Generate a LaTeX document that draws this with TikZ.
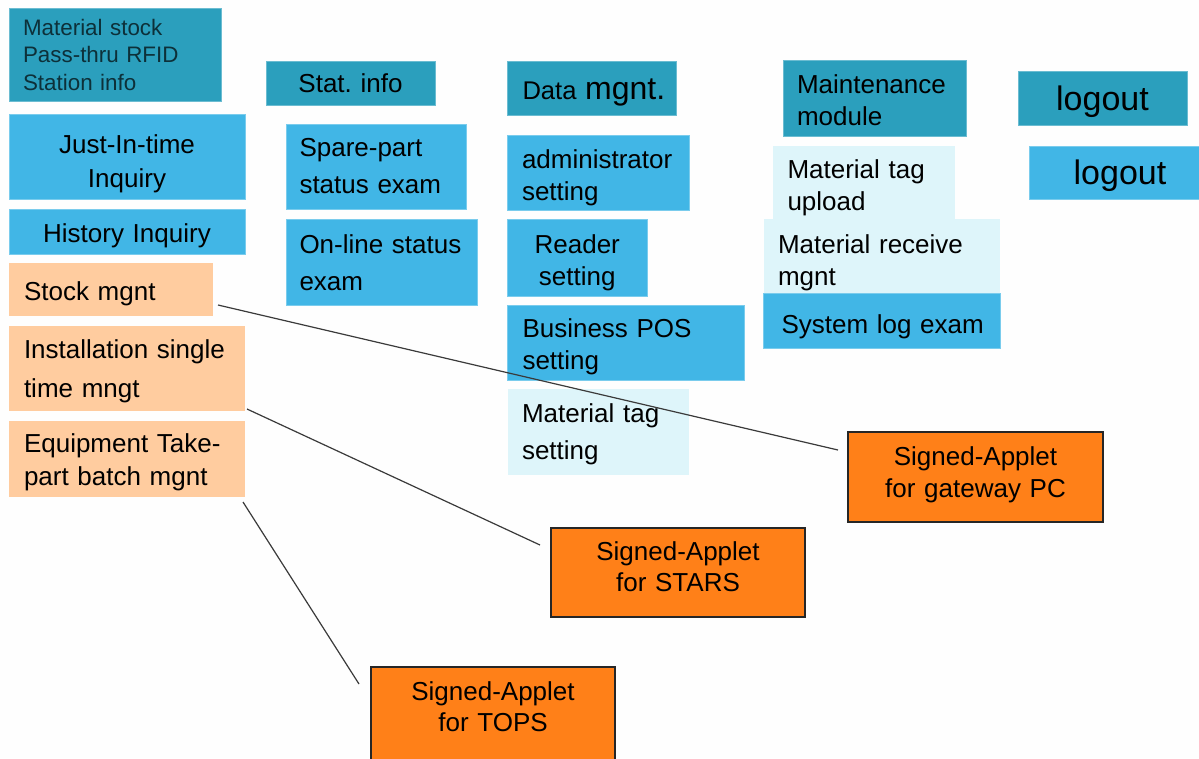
\documentclass[tikz,border=0pt]{standalone}
\usepackage{fontspec}
\setmainfont{Liberation Sans}
\definecolor{tealc}{HTML}{2B9FBD}
\definecolor{bluec}{HTML}{41B6E6}
\definecolor{peachc}{HTML}{FFCC9F}
\definecolor{palec}{HTML}{DEF5FA}
\definecolor{orangec}{HTML}{FF8018}
\definecolor{linkc}{HTML}{3A3A3A}
\newcommand\pxfont[2]{\pgfmathsetlengthmacro\pxa{#1*0.75pt}\pgfmathsetlengthmacro\pxb{#2*0.75pt}\fontsize{\pxa}{\pxb}\selectfont\frenchspacing}
% text moved down (\dnpx, at the start of a text) or up (\uppx, at its end), in pixels
\newlength\bxd
\newcommand\dnpx[1]{\setlength\bxd{\dimexpr .73em+#1pt*3/2\relax}\rule{0pt}{\bxd}}
\newcommand\uppx[1]{\setlength\bxd{\dimexpr .21em+#1pt*3/2\relax}\rule[-\bxd]{0pt}{\bxd}}
\tikzset{
  ft/.style n args={2}{font=\pxfont{#1}{#2}},
  tealbox/.style={fill=tealc,draw=tealc!70!white,line width=.5pt},
  bluebox/.style={fill=bluec,draw=bluec!70!white,line width=.5pt},
  peachbox/.style={fill=peachc},
  palebox/.style={fill=palec},
  orangebox/.style={fill=orangec,draw=black!85,line width=.8pt},
  link/.style={draw=linkc,line width=.9pt},
}
\newlength\bxw
\newlength\bxh
\newlength\bxt
\newcommand\bx[8][]{%
  \pgfmathsetlength\bxw{(#5-#3)*0.75pt}%
  \pgfmathsetlength\bxh{(#6-#4)*0.75pt}%
  \pgfmathsetlength\bxt{(#5-#3-2*#7)*0.75pt}%
  \node[inner sep=0pt,outer sep=0pt,anchor=center,minimum width=\bxw,minimum height=\bxh,
        text width=\bxt,align=left,#1] (#2) at ({(#3+#5)/2},{(#4+#6)/2}) {#8};%
}
\begin{document}
\begin{tikzpicture}[x=.75pt,y=-.75pt]
\useasboundingbox (0,0) rectangle (1199,758);
\fill[white!99.5!black] (0,0) rectangle (1199,758);
% column 1
\bx[tealbox,ft={22.4}{27.5},text=black!70!tealc]{stockinfo}{9}{8}{221}{101}{14}{Material stock\\Pass-thru RFID\\Station info}
\bx[bluebox,ft={26}{34},align=center]{jit}{9}{114}{245}{199}{10}{\dnpx{7}Just-In-time\\Inquiry}
\bx[bluebox,ft={26}{30},align=center]{hist}{9}{209}{245}{254}{10}{\dnpx{4}History Inquiry}
\bx[peachbox,ft={26}{30}]{stock}{9}{263}{213}{316}{15}{\dnpx{4}Stock mgnt}
\bx[peachbox,ft={26}{39}]{install}{9}{326}{245}{411}{15}{\dnpx{3}Installation single\\time mngt}
\bx[peachbox,ft={26}{33}]{equip}{9}{421}{245}{497}{15}{\dnpx{3}Equipment Take-\\part batch mgnt}
% column 2
\bx[tealbox,ft={26}{30},align=center]{stat}{266}{61}{435}{105}{5}{Stat. info}
\bx[bluebox,ft={26}{37}]{spare}{286}{124}{466}{209}{13.5}{Spare-part\\status exam}
\bx[bluebox,ft={26}{37}]{online}{286}{219}{477}{305}{13.5}{\dnpx{1}On-line status\\exam}
% column 3
\bx[tealbox,ft={25.6}{30}]{datam}{507.5}{61}{676.5}{115}{15}{\dnpx{5}\mbox{Data {\pxfont{32}{32}mgnt.}}}
\bx[bluebox,ft={26}{32}]{admin}{507.5}{135}{689}{210}{14.5}{\dnpx{5}administrator\\setting}
\bx[bluebox,ft={26}{32},align=center]{reader}{507.5}{219}{647}{296}{5}{\dnpx{5}Reader\\setting}
\bx[bluebox,ft={26}{32}]{pos}{507.5}{305}{744}{380}{15}{\dnpx{4}Business POS\\setting}
\bx[palebox,ft={26}{37}]{mtag}{507.5}{389}{689}{475}{14.5}{\dnpx{2}Material tag\\setting}
% column 4
\bx[tealbox,ft={26}{32}]{maint}{783}{60}{966}{136}{14}{\dnpx{2}Maintenance\\module}
\bx[palebox,ft={26}{32}]{upload}{773}{146}{955}{220}{14.5}{\dnpx{5}Material tag\\upload}
\bx[palebox,ft={26}{32}]{receive}{763.5}{219}{1000}{294}{14.5}{\dnpx{6}Material receive\\mgnt}
\bx[bluebox,ft={26}{30}]{syslog}{763.5}{293}{1000}{348}{18}{\dnpx{6}\mbox{System log exam}}
% column 5
\bx[tealbox,ft={34}{38},align=center]{logouta}{1018}{71.5}{1187}{125}{10}{\dnpx{3}logout}
\bx[bluebox,ft={34}{38},align=center]{logoutb}{1029}{146}{1199}{199}{10}{\dnpx{3}\hspace*{9pt}logout}
% applets
\bx[orangebox,ft={26}{32},align=center]{gw}{848}{432}{1103}{522}{10}{Signed-Applet\\for gateway PC\uppx{2}}
\bx[orangebox,ft={26}{31},align=center]{stars}{551}{528}{805}{617}{10}{Signed-Applet\\for STARS\uppx{3}}
\bx[orangebox,ft={26}{31},align=center]{tops}{371}{667}{615}{761}{10}{Signed-Applet\\for TOPS\uppx{5}}
% connectors
\coordinate (a1) at (218,305);
\coordinate (a2) at (838,450);
\coordinate (b1) at (247,409);
\coordinate (b2) at (540,545);
\coordinate (c1) at (243,502);
\coordinate (c2) at (359,684);
\draw[link] (a1) -- (a2);
\draw[link] (b1) -- (b2);
\draw[link] (c1) -- (c2);
\end{tikzpicture}
\end{document}
